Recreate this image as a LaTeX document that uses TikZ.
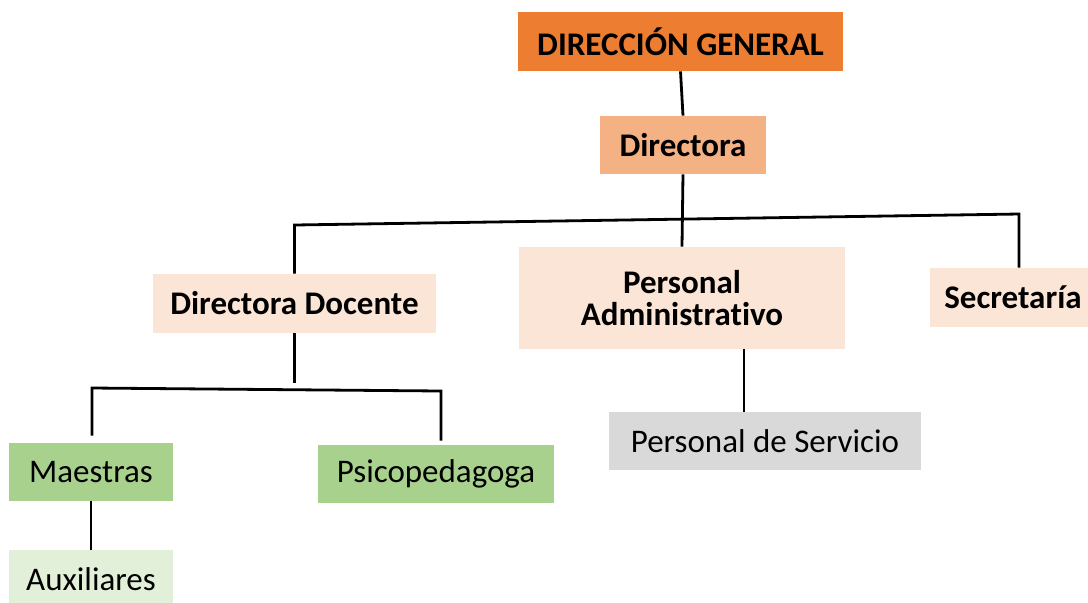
\documentclass[tikz,border=0pt]{standalone}
\usepackage{fontspec}
\setmainfont{Carlito}[Ligatures=NoCommon]
\definecolor{orgdark}{HTML}{ED7D31}
\definecolor{orgmid}{HTML}{F4B183}
\definecolor{orglight}{HTML}{FBE5D6}
\definecolor{greymid}{HTML}{D9D9D9}
\definecolor{grnmid}{HTML}{A9D18E}
\definecolor{grnlight}{HTML}{E2F0D9}
\begin{document}
\begin{tikzpicture}[x=0.5pt,y=-0.5pt]
		\tikzset{unit/.style = {shape=rectangle,inner sep=0pt,minimum height=29pt,align=center,font=\fontsize{16.5}{16}\selectfont}}
		\tikzset{head/.style = {unit,font=\fontsize{16.5}{16}\selectfont\bfseries}}
		\tikzset{link/.style = {draw,line width=1.4pt}}
		\useasboundingbox (0,0) rectangle (1088,602);
		\node[head,fill=orgdark,minimum width=162.5pt,minimum height=29.5pt] (dg) at (680.5,41.5) {DIRECCIÓN GENERAL};
		\node[head,fill=orgmid,minimum width=83pt] (dir) at (683,145) {Directora};
		\node[head,fill=orglight,minimum width=141.5pt,minimum height=29.5pt] (dd) at (294.5,303.5) {Directora Docente};
		\node[head,fill=orglight,minimum width=163pt,minimum height=51pt] (pa) at (682,298) {Personal\\Administrativo};
		\node[head,fill=orglight,minimum width=83pt,minimum height=29.5pt] (sec) at (1013,297.5) {Secretaría};
		\node[unit,fill=greymid,minimum width=156pt] (pds) at (765,441) {Personal de Servicio};
		\node[unit,fill=grnmid,minimum width=82pt] (mae) at (91,472) {Maestras};
		\node[unit,fill=grnmid,minimum width=118pt] (psi) at (436,474) {Psicopedagoga};
		\node[unit,fill=grnlight,minimum width=82pt] (aux) at (91,579) {Auxiliares};
		% junctions
		\coordinate (tbarl) at (dd.north |- 0,225);
		\coordinate (tbarr) at (1019,214);
		\coordinate (lbarl) at (92,388);
		\coordinate (lbarr) at (441,391);
		\path[link] (dg.south) -- (dir.north);
		\path[link] (dir.south) -- (pa.north);
		\path[link] (dd.north) -- (tbarl) -- (tbarr) -- (tbarr |- sec.north);
		\path[link] (dd.south) -- (dd.south |- 0,383);
		\path[link,shorten <=3.5pt,shorten >=2pt] (mae.north -| lbarl) -- (lbarl) -- (lbarr) -- (psi.north -| lbarr);
		\path[link] (744,0 |- pa.south) -- (744,0 |- pds.north);
		\path[link] (mae.south) -- (aux.north);
	\end{tikzpicture}
\end{document}
